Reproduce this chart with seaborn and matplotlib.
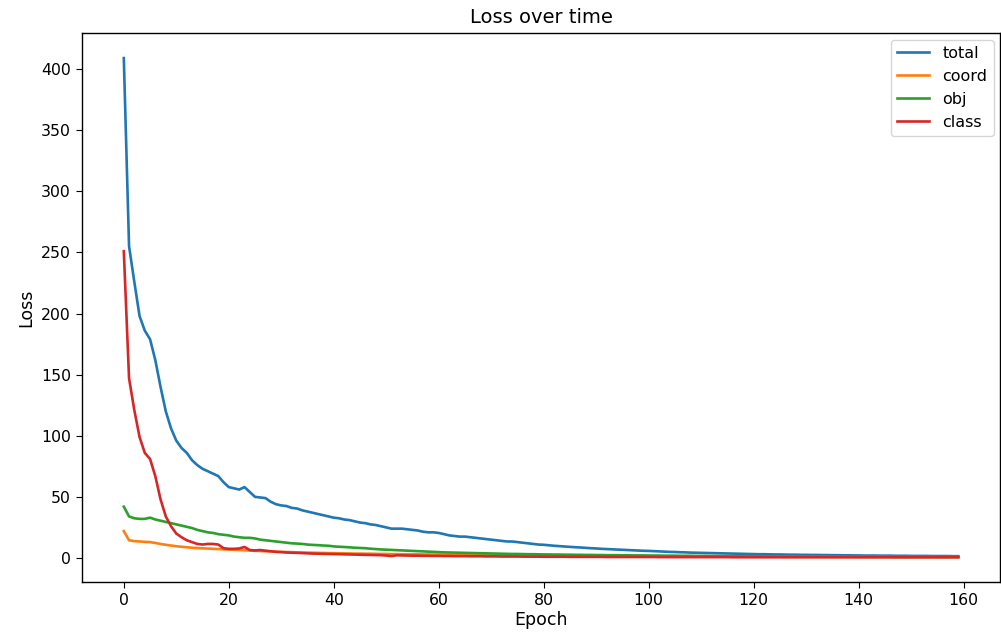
import numpy as np
import pandas as pd
import matplotlib
matplotlib.use('Agg')
import matplotlib.pyplot as plt
import seaborn as sns

# значения, по одному на эпоху (0..159)
total_loss = [
    409, 255, 226, 198, 186, 179, 162, 140, 120, 106,
    96, 90, 86, 80, 76, 73, 71, 69, 67, 62,
    58, 57, 56, 58, 54, 50, 49.5, 49, 46, 44,
    43, 42.5, 41, 40.5, 39, 38, 37, 36, 35, 34,
    33, 32.5, 31.5, 31, 30, 29, 28.5, 27.5, 27, 26,
    25, 24, 24, 24, 23.5, 23, 22.5, 21.5, 21, 21,
    20.5, 19.5, 18.5, 18, 17.5, 17.5, 17, 16.5, 16, 15.5,
    15, 14.5, 14, 13.5, 13.5, 13, 12.5, 12, 11.5, 11,
    10.8, 10.4, 10, 9.7, 9.4, 9.1, 8.8, 8.6, 8.3, 8,
    7.8, 7.5, 7.3, 7.1, 6.9, 6.7, 6.5, 6.3, 6.1, 5.9,
    5.8, 5.6, 5.4, 5.2, 5.0, 4.9, 4.7, 4.6, 4.4, 4.3,
    4.2, 4.1, 4.0, 3.9, 3.8, 3.7, 3.6, 3.5, 3.4, 3.3,
    3.2, 3.1, 3.1, 3.0, 2.9, 2.9, 2.8, 2.7, 2.7, 2.6,
    2.6, 2.5, 2.5, 2.4, 2.4, 2.3, 2.3, 2.2, 2.2, 2.1,
    2.1, 2.0, 2.0, 2.0, 1.9, 1.9, 1.9, 1.8, 1.8, 1.8,
    1.7, 1.7, 1.7, 1.7, 1.6, 1.6, 1.6, 1.6, 1.5, 1.5,
]

coord_loss = [
    22, 14.5, 13.8, 13.5, 13.2, 13, 12.3, 11.5, 10.8, 10.2,
    9.6, 9.2, 8.8, 8.4, 8.1, 7.9, 7.7, 7.5, 7.3, 7.1,
    6.9, 6.7, 6.5, 6.3, 6.1, 5.9, 5.7, 5.5, 5.4, 5.2,
    5.0, 4.9, 4.8, 4.6, 4.5, 4.4, 4.3, 4.2, 4.1, 4.0,
    3.9, 3.8, 3.8, 3.7, 3.6, 3.6, 3.5, 3.5, 3.4, 3.3,
    3.3, 3.2, 3.2, 3.1, 3.1, 3.0, 3.0, 2.9, 2.9, 2.8,
    2.8, 2.7, 2.7, 2.6, 2.6, 2.5, 2.5, 2.5, 2.4, 2.4,
    2.3, 2.3, 2.3, 2.2, 2.2, 2.2, 2.1, 2.1, 2.1, 2.0,
    2.0, 2.0, 1.9, 1.9, 1.9, 1.8, 1.8, 1.8, 1.7, 1.7,
    1.7, 1.6, 1.6, 1.6, 1.6, 1.5, 1.5, 1.5, 1.5, 1.4,
    1.4, 1.4, 1.4, 1.3, 1.3, 1.3, 1.3, 1.3, 1.2, 1.2,
    1.2, 1.2, 1.2, 1.1, 1.1, 1.1, 1.1, 1.1, 1.1, 1.0,
    1.0, 1.0, 1.0, 1.0, 1.0, 1.0, 0.9, 0.9, 0.9, 0.9,
    0.9, 0.9, 0.9, 0.9, 0.9, 0.8, 0.8, 0.8, 0.8, 0.8,
    0.8, 0.8, 0.8, 0.8, 0.8, 0.8, 0.7, 0.7, 0.7, 0.7,
    0.7, 0.7, 0.7, 0.7, 0.7, 0.7, 0.7, 0.7, 0.7, 0.7,
]

obj_loss = [
    42, 34, 32.5, 32, 32, 33, 31.5, 30.5, 29.5, 28.5,
    27.5, 26.5, 25.5, 24.5, 23, 22, 21, 20.5, 19.5, 19,
    18.5, 17.5, 17, 16.5, 16.5, 16, 15, 14.5, 14, 13.5,
    13, 12.5, 12, 11.8, 11.5, 11, 10.7, 10.5, 10.2, 10,
    9.5, 9.2, 9, 8.7, 8.4, 8.2, 8, 7.6, 7.3, 7,
    6.8, 6.6, 6.4, 6.2, 6, 5.8, 5.6, 5.4, 5.2, 5,
    4.8, 4.6, 4.5, 4.4, 4.3, 4.2, 4.1, 4.0, 3.9, 3.8,
    3.7, 3.6, 3.5, 3.4, 3.3, 3.3, 3.2, 3.1, 3.1, 3.0,
    2.9, 2.9, 2.8, 2.8, 2.7, 2.7, 2.6, 2.6, 2.5, 2.5,
    2.4, 2.4, 2.3, 2.3, 2.3, 2.2, 2.2, 2.1, 2.1, 2.1,
    2.0, 2.0, 2.0, 1.9, 1.9, 1.9, 1.8, 1.8, 1.8, 1.7,
    1.7, 1.7, 1.6, 1.6, 1.6, 1.6, 1.5, 1.5, 1.5, 1.5,
    1.4, 1.4, 1.4, 1.4, 1.3, 1.3, 1.3, 1.3, 1.3, 1.2,
    1.2, 1.2, 1.2, 1.2, 1.1, 1.1, 1.1, 1.1, 1.1, 1.1,
    1.0, 1.0, 1.0, 1.0, 1.0, 1.0, 1.0, 0.9, 0.9, 0.9,
    0.9, 0.9, 0.9, 0.9, 0.9, 0.9, 0.9, 0.9, 0.9, 0.9,
]

class_loss = [
    251, 147, 121, 99, 86, 81, 67, 48, 34, 26,
    20, 17, 14.5, 13, 11.5, 11, 11.5, 11.5, 11, 8,
    7.5, 7.5, 7.8, 9, 6.5, 6.2, 6.5, 6, 5.5, 5,
    4.8, 4.5, 4.3, 4.2, 4, 3.8, 3.6, 3.5, 3.4, 3.3,
    3.2, 3.1, 3.0, 2.9, 2.8, 2.7, 2.6, 2.5, 2.4, 2.3,
    2.0, 1.6, 2.2, 2.1, 2.0, 1.9, 1.9, 1.8, 1.8, 1.7,
    1.7, 1.6, 1.6, 1.5, 1.5, 1.5, 1.4, 1.4, 1.4, 1.3,
    1.3, 1.3, 1.2, 1.2, 1.2, 1.2, 1.1, 1.1, 1.1, 1.1,
    1.0, 1.0, 1.0, 1.0, 1.0, 0.9, 0.9, 0.9, 0.9, 0.9,
    0.9, 0.9, 0.8, 0.8, 0.8, 0.8, 0.8, 0.8, 0.8, 0.8,
    0.8, 0.8, 0.7, 0.7, 0.7, 0.7, 0.7, 0.7, 0.7, 0.7,
    0.7, 0.7, 0.7, 0.7, 0.7, 0.7, 0.6, 0.6, 0.6, 0.6,
    0.6, 0.6, 0.6, 0.6, 0.6, 0.6, 0.6, 0.6, 0.6, 0.6,
    0.6, 0.6, 0.6, 0.6, 0.6, 0.6, 0.6, 0.6, 0.6, 0.6,
    0.6, 0.6, 0.6, 0.6, 0.6, 0.6, 0.6, 0.6, 0.6, 0.6,
    0.6, 0.6, 0.6, 0.6, 0.6, 0.6, 0.6, 0.6, 0.6, 0.6,
]

series_names = ['total', 'coord', 'obj', 'class']
series_values = [total_loss, coord_loss, obj_loss, class_loss]
line_colors = ['#1f77b4', '#ff7f0e', '#2ca02c', '#d62728']

frames = []
for name, vals in zip(series_names, series_values):
    frames.append(pd.DataFrame({'Epoch': np.arange(len(vals)), 'Loss': vals, 'part': name}))
df = pd.concat(frames, ignore_index=True)

fig = plt.figure(figsize=(10.01, 6.37), dpi=100)
ax = fig.add_axes([0.082, 0.086, 0.917, 0.862])

sns.lineplot(data=df, x='Epoch', y='Loss', hue='part', hue_order=series_names,
             palette=line_colors, linewidth=1.9, ax=ax)

ax.set_title('Loss over time', fontsize=14, pad=7)
ax.set_xlabel('Epoch', fontsize=12.5, labelpad=2)
ax.set_ylabel('Loss', fontsize=12.5)
ax.set_xticks(np.arange(0, 161, 20))
ax.tick_params(labelsize=11.3, length=4.5)
for sp in ax.spines.values():
    sp.set_linewidth(1.0)
sns.move_legend(ax, 'upper right', title=None, fontsize=11.5,
                borderaxespad=0.4)

fig.savefig('out.png', dpi=100)
